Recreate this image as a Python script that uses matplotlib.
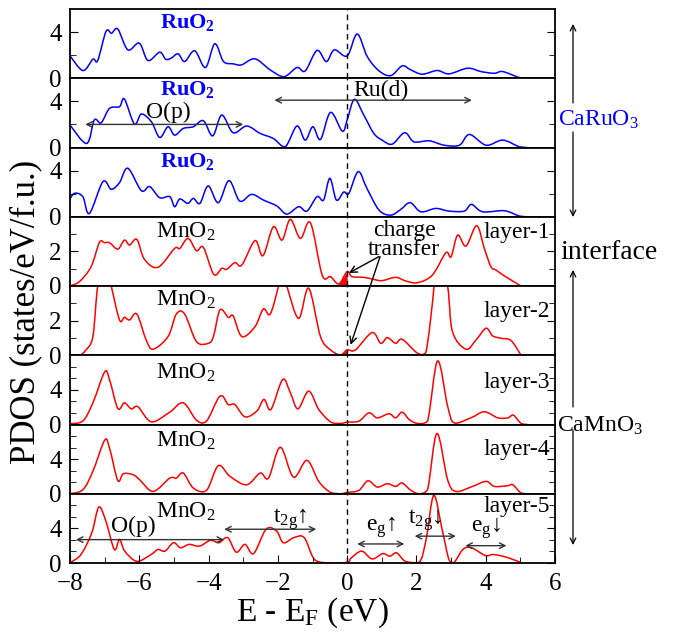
import numpy as np
import matplotlib.pyplot as plt
from matplotlib.ticker import FixedLocator
from matplotlib.path import Path
from matplotlib.patches import PathPatch, FancyArrowPatch

plt.rcParams['font.family'] = ['Liberation Serif', 'DejaVu Serif']
plt.rcParams['mathtext.fontset'] = 'custom'
plt.rcParams['mathtext.rm'] = 'Liberation Serif'
plt.rcParams['mathtext.it'] = 'Liberation Serif:italic'
plt.rcParams['mathtext.bf'] = 'Liberation Serif:bold'

# ---- PDOS (energy in eV, states/eV/f.u.) ----
ru1_e = [-8.02, -7.63, -7.34, -7.2, -6.96, -6.8, -6.62, -6.33, -6.0, -5.75, -5.41, -5.24, -5.08, -4.88,
         -4.69, -4.4, -4.09, -3.82, -3.57, -3.29, -3.05, -2.66, -2.22, -1.82, -1.45, -1.21, -0.87, -0.6,
         -0.37, 0.0, 0.29, 0.58, 0.92, 1.26, 1.59, 1.84, 2.17, 2.6, 2.94, 3.48, 3.86, 4.25, 4.49, 4.97, 5.2]
ru1_d = [2.03, 0.67, 1.65, 1.54, 4.06, 3.9, 4.26, 2.46, 3.04, 1.54, 2.26, 1.65, 1.74, 2.12,
         1.45, 2.38, 0.93, 2.99, 1.45, 1.25, 1.16, 1.68, 0.72, 0.14, 0.93, 0.64, 2.41, 1.45,
         2.46, 1.94, 3.83, 1.88, 0.64, 0.23, 1.07, 0.72, 0.35, 0.67, 0.38, 0.87, 0.58, 0.43, 0.58, 0.06, 0.0]

ru2_e = [-8.02, -7.52, -7.3, -7.1, -6.86, -6.57, -6.43, -6.14, -5.94, -5.65, -5.41, -5.17, -4.98, -4.73,
         -4.44, -4.15, -3.88, -3.62, -3.29, -2.9, -2.51, -2.13, -1.79, -1.45, -1.21, -0.99, -0.77, -0.48,
         -0.14, 0.0, 0.21, 0.48, 0.77, 1.01, 1.3, 1.66, 1.93, 2.37, 2.8, 3.24, 3.53, 4.01, 4.49, 4.97, 5.2]
ru2_d = [2.03, 0.35, 2.38, 2.14, 3.39, 3.54, 4.2, 2.03, 2.9, 2.23, 0.87, 1.8, 1.07, 1.65,
         1.8, 2.32, 1.01, 2.81, 1.28, 1.86, 1.22, 0.78, 0.06, 1.86, 0.64, 1.8, 0.7, 3.04,
         1.42, 2.38, 4.17, 2.81, 1.22, 0.64, 0.29, 1.28, 0.49, 0.58, 0.2, 0.2, 1.13, 0.2, 0.64, 0.06, 0.0]

ru3_e = [-8.02, -7.87, -7.63, -7.44, -7.05, -6.81, -6.57, -6.33, -5.94, -5.7, -5.41, -5.12, -4.98, -4.83,
         -4.6, -4.44, -4.25, -4.01, -3.72, -3.41, -3.1, -2.76, -2.42, -2.03, -1.74, -1.4, -1.16, -0.87,
         -0.68, -0.5, -0.31, -0.1, 0.05, 0.32, 0.57, 0.92, 1.26, 1.55, 1.82, 2.13, 2.56, 2.94, 3.38, 3.59,
         3.91, 4.54, 4.97, 5.2]
ru3_d = [1.45, 2.03, 1.74, 0.29, 3.04, 2.38, 2.96, 4.2, 2.26, 2.61, 1.65, 1.74, 0.87, 1.54,
         1.16, 1.59, 1.16, 2.67, 1.22, 3.13, 1.36, 1.94, 1.45, 0.93, 0.23, 0.87, 0.49, 1.74,
         1.45, 3.33, 1.45, 2.14, 2.03, 3.91, 2.46, 0.58, 0.14, 0.64, 1.22, 0.43, 0.72, 0.49, 0.49, 1.07,
         0.43, 0.52, 0.06, 0.0]

mn1_e = [-8.02, -7.73, -7.39, -7.15, -7.0, -6.86, -6.62, -6.43, -6.28, -6.07, -5.85, -5.46, -4.98, -4.83,
         -4.59, -4.35, -4.15, -3.85, -3.62, -3.48, -3.24, -3.04, -2.66, -2.43, -2.13, -1.88, -1.64, -1.35,
         -1.06, -0.72, -0.48, -0.24, 0.0, 0.14, 0.48, 0.77, 1.01, 1.4, 1.69, 2.03, 2.46, 2.85, 3.0, 3.19,
         3.43, 3.74, 3.96, 4.15, 4.3, 4.54, 5.02]
mn1_d = [0.0, 0.25, 1.12, 2.52, 2.5, 2.5, 2.13, 2.65, 2.37, 2.69, 1.54, 1.08, 2.17, 2.17,
         2.75, 2.04, 2.23, 0.67, 1.02, 0.96, 1.35, 1.21, 2.62, 1.75, 3.42, 2.65, 3.85, 2.75,
         3.65, 0.63, 0.54, 0.12, 0.83, 0.54, 0.5, 0.38, 0.31, 0.5, 0.29, 0.19, 0.63, 1.92, 1.69, 2.94,
         2.31, 3.48, 2.17, 1.12, 0.92, 0.58, 0.0]

mn2_e = [-8.02, -7.73, -7.54, -7.34, -7.2, -7.0, -6.81, -6.57, -6.43, -6.28, -6.07, -5.8, -5.6, -5.17,
         -4.93, -4.69, -4.35, -4.01, -3.86, -3.67, -3.43, -3.29, -3.04, -2.66, -2.42, -2.22, -1.98, -1.86,
         -1.74, -1.4, -1.11, -0.77, -0.48, -0.19, 0.0, 0.24, 0.72, 0.97, 1.16, 1.4, 1.59, 2.03, 2.27,
         2.51, 2.6, 2.9, 3.04, 3.43, 3.72, 4.01, 4.2, 4.44, 4.73, 5.02]
mn2_d = [0.0, 0.0, 0.31, 1.08, 4.0, 5.6, 4.0, 2.04, 2.19, 2.04, 2.38, 0.88, 0.35, 1.08,
         2.38, 2.38, 0.79, 0.69, 1.08, 2.62, 2.19, 2.27, 1.08, 1.65, 2.67, 2.38, 4.0, 5.0,
         4.0, 2.13, 3.87, 1.08, 0.31, 0.02, 0.31, 0.31, 1.31, 0.69, 1.02, 0.69, 0.92, 0.12, 0.15,
         4.0, 7.0, 4.0, 1.37, 0.35, 0.88, 1.56, 1.12, 0.98, 0.85, 0.0]

mn3_e = [-8.02, -7.63, -7.34, -7.0, -6.86, -6.62, -6.43, -6.23, -6.04, -5.65, -5.12, -4.73, -4.35, -4.06,
         -3.67, -3.43, -3.24, -2.95, -2.61, -2.4, -2.2, -1.86, -1.64, -1.42, -1.11, -0.82, -0.48, -0.19,
         0.0, 0.34, 0.63, 0.87, 1.21, 1.4, 1.59, 1.79, 2.03, 2.32, 2.61, 2.9, 3.09, 3.57, 3.96, 4.35,
         4.64, 4.8, 5.02, 5.2]
mn3_d = [0.1, 0.4, 2.5, 6.06, 5.2, 1.85, 2.5, 1.8, 2.05, 0.31, 1.43, 2.5, 0.5, 0.39,
         3.28, 2.3, 2.3, 0.89, 1.54, 2.9, 1.74, 5.2, 3.67, 1.81, 3.86, 1.74, 0.31, 0.12,
         0.27, 0.39, 1.35, 0.77, 1.24, 0.77, 1.43, 0.58, 0.12, 0.39, 7.34, 2.12, 0.19, 0.77, 1.47, 0.77,
         0.77, 1.08, 0.12, 0.0]

mn4_e = [-8.02, -7.63, -7.34, -7.0, -6.86, -6.62, -6.46, -6.18, -5.99, -5.6, -5.12, -4.93, -4.73, -4.44,
         -4.06, -3.72, -3.38, -2.9, -2.51, -2.27, -1.93, -1.55, -1.16, -0.82, -0.48, -0.19, 0.0, 0.34,
         0.6, 0.87, 1.16, 1.4, 1.59, 1.84, 2.08, 2.32, 2.59, 2.9, 3.14, 3.62, 4.01, 4.25, 4.64, 4.78,
         5.02, 5.2]
mn4_d = [0.0, 0.46, 2.59, 6.18, 5.29, 1.54, 2.32, 2.2, 1.62, 0.27, 1.81, 1.81, 2.39, 0.66,
         0.39, 3.24, 2.0, 1.04, 2.39, 1.81, 5.37, 1.93, 3.86, 1.43, 0.15, 0.0, 0.15, 0.39,
         1.5, 0.77, 1.16, 0.85, 1.24, 0.39, 0.0, 0.46, 6.95, 1.62, 0.27, 0.85, 1.43, 0.85, 0.93, 1.04,
         0.08, 0.0]

mn5_e = [-7.98, -7.68, -7.37, -7.17, -6.97, -6.72, -6.57, -6.42, -6.07, -5.66, -5.46, -5.26, -5.01, -4.81,
         -4.56, -4.26, -3.95, -3.7, -3.45, -3.2, -2.95, -2.7, -2.34, -2.04, -1.84, -1.54, -1.24, -0.94,
         -0.53, 0.0, 0.12, 0.42, 0.72, 1.03, 1.23, 1.43, 1.68, 2.08, 2.28, 2.5, 2.74, 2.94, 3.09, 3.34,
         3.59, 3.99, 4.2, 4.5, 4.8, 5.05]
mn5_d = [0.08, 1.0, 3.5, 6.45, 4.9, 1.56, 2.73, 1.37, 0.2, 0.98, 1.56, 1.37, 2.34, 1.76,
         2.15, 1.95, 2.62, 2.34, 2.93, 1.25, 2.15, 1.09, 3.9, 3.7, 2.34, 2.93, 2.93, 0.39,
         0.0, 0.08, 0.59, 1.37, 0.47, 1.09, 0.78, 1.17, 0.2, 0.08, 2.73, 7.8, 3.9, 0.39, 0.08, 1.56,
         1.76, 0.86, 0.98, 0.78, 0.39, 0.0]

energies = [ru1_e, ru2_e, ru3_e, mn1_e, mn2_e, mn3_e, mn4_e, mn5_e]
pdos = [ru1_d, ru2_d, ru3_d, mn1_d, mn2_d, mn3_d, mn4_d, mn5_d]
colors = ['#0000ff'] * 3 + ['#ff0000'] * 5
ymax = [6, 6, 6, 4, 4, 8, 8, 8]
layer_names = ['', '', '', 'layer-1', 'layer-2', 'layer-3', 'layer-4', 'layer-5']
layer_y = [0, 0, 0, 3.1, 2.55, 4.85, 5.1, 6.5]


def smooth_path(x, y):
    # smooth (Bezier) rendering through the read points, no new data values
    p = np.column_stack([x, y]).astype(float)
    n = len(p)
    verts = [p[0]]
    codes = [Path.MOVETO]
    for i in range(n - 1):
        p0 = p[max(i - 1, 0)]
        p1, p2 = p[i], p[i + 1]
        p3 = p[min(i + 2, n - 1)]
        c1 = p1 + (p2 - p0) / 6
        c2 = p2 - (p3 - p1) / 6
        c1[0] = min(max(c1[0], p1[0]), p2[0])
        c2[0] = min(max(c2[0], p1[0]), p2[0])
        c1[1] = max(c1[1], 0)
        c2[1] = max(c2[1], 0)
        verts += [c1, c2, p2]
        codes += [Path.CURVE4] * 3
    return Path(verts, codes)


W, H = 676, 633
fig = plt.figure(figsize=(W / 100, H / 100), dpi=100)
top_px, bot_px, left_px, right_px = 9, 563, 70, 555
ph = (bot_px - top_px) / 8

axes = []
for i in range(8):
    y0 = 1 - (top_px + (i + 1) * ph) / H
    ax = fig.add_axes([left_px / W, y0, (right_px - left_px) / W, ph / H])
    ax.add_patch(PathPatch(smooth_path(energies[i], pdos[i]), fill=False,
                           edgecolor=colors[i], lw=1.1))
    ax.axvline(0, color='k', ls=(0, (4, 3)), lw=1)
    ax.set_xlim(-8, 6)
    ax.set_ylim(0, ymax[i])
    if ymax[i] == 4:
        ax.set_yticks([0, 2])
        ax.yaxis.set_minor_locator(FixedLocator([1, 3]))
    elif ymax[i] == 6:
        ax.set_yticks([0, 4])
        ax.yaxis.set_minor_locator(FixedLocator([2]))
    else:
        ax.set_yticks([0, 4])
        ax.yaxis.set_minor_locator(FixedLocator([4 / 3, 8 / 3, 16 / 3, 20 / 3]))
    ax.tick_params(axis='y', which='both', direction='in', left=True, right=True,
                   labelsize=18, pad=6)
    ax.tick_params(axis='y', which='major', length=6)
    ax.tick_params(axis='y', which='minor', length=4)
    for s in ax.spines.values():
        s.set_linewidth(1.3)
    if i < 7:
        ax.set_xticks([])
    else:
        ax.set_xticks(np.arange(-8, 7, 2))
        ax.xaxis.set_minor_locator(FixedLocator(np.arange(-7, 6, 2)))
        ax.tick_params(axis='x', which='both', direction='in', labelsize=18, pad=7)
        ax.tick_params(axis='x', which='major', length=6)
        ax.tick_params(axis='x', which='minor', length=4)
    if layer_names[i]:
        ax.text(5.85, layer_y[i], layer_names[i], ha='right', va='center', fontsize=17)
    axes.append(ax)

# red filled regions just below E_F
for i, lo in [(3, -0.3), (4, -0.2)]:
    e = np.array(energies[i])
    d = np.array(pdos[i])
    axes[i].fill_between(e, d, where=(e >= lo) & (e <= 0), color='#ff0000', lw=0)

# RuO2 / MnO2 labels
for i, yy in zip(range(3), [4.8, 5.0, 4.8]):
    axes[i].text(-4.6, yy, r'RuO$_\mathbf{2}$', color='#0000ff', fontweight='bold',
                 fontsize=16, ha='center', va='center')
for i, yy in zip(range(3, 8), [3.1, 3.2, 6.0, 6.1, 5.9]):
    axes[i].text(-4.65, yy, r'MnO$_2$', fontsize=17, ha='center', va='center')

arr = dict(arrowstyle='<->', color='#333333', lw=1, shrinkA=0, shrinkB=0,
           mutation_scale=10)

# panel 2: O(p) and Ru(d)
axes[1].annotate('', xy=(-7.56, 2.0), xytext=(-3.0, 2.0), arrowprops=arr)
axes[1].text(-5.15, 3.0, 'O(p)', fontsize=17, ha='center', va='center')
axes[1].annotate('', xy=(-2.1, 4.1), xytext=(3.6, 4.1), arrowprops=arr)
axes[1].text(0.97, 4.9, 'Ru(d)', fontsize=17, ha='center', va='center')

# charge transfer
axes[3].text(1.65, 2.65, 'charge\ntransfer', fontsize=17, ha='center', va='center',
             linespacing=0.85)
one = dict(arrowstyle='->', color='k', lw=1, shrinkA=0, shrinkB=0, mutation_scale=12)
axes[3].annotate('', xy=(0.05, 0.75), xytext=(0.92, 1.7), arrowprops=one)
axes[4].annotate('', xy=(0.1, 0.6), xytext=(0.95, 1.7), textcoords=axes[3].transData,
                 arrowprops=one, annotation_clip=False)

# panel 8: orbital ranges
ax8 = axes[7]
spans = [(-7.83, -3.55, 2.7), (-3.55, -0.89, 3.9), (0.29, 1.65, 2.2), (1.95, 3.14, 3.1), (3.41, 4.6, 2.0)]
for x1, x2, yy in spans:
    ax8.annotate('', xy=(x1, yy), xytext=(x2, yy), arrowprops=arr)
ax8.text(-6.17, 4.2, 'O(p)', fontsize=17, ha='center', va='center')
ax8.text(-1.65, 5.1, r't$_\mathrm{2g}$↑', fontsize=17, ha='center', va='center')
ax8.text(0.98, 4.1, r'e$_\mathrm{g}$↑', fontsize=17, ha='center', va='center')
ax8.text(2.25, 5.0, r't$_\mathrm{2g}$↓', fontsize=17, ha='center', va='center')
ax8.text(4.0, 4.0, r'e$_\mathrm{g}$↓', fontsize=17, ha='center', va='center')

# axis titles
fig.text(26 / W, 1 - 312 / H, 'PDOS (states/eV/f.u.)', rotation=90, fontsize=25,
         ha='center', va='center')
fig.text(312 / W, 1 - 621 / H, 'E - E$_\\mathrm{F}$ (eV)', fontsize=24, ha='center',
         va='baseline')


# right-hand side: slab regions
def fx(px):
    return px / W


def fy(py):
    return 1 - py / H


side = dict(arrowstyle='->', color='k', lw=0.9, shrinkA=0, shrinkB=0, mutation_scale=10)
for a, b in [(103, 24), (132, 217), (407, 270), (430, 545)]:
    fig.add_artist(FancyArrowPatch((fx(573), fy(a)), (fx(573), fy(b)),
                                   transform=fig.transFigure, **side))
fig.text(fx(558), fy(126), r'CaRuO$_3$', color='#0000ff', fontsize=17, ha='left',
         va='baseline')
fig.text(fx(560), fy(259), 'interface', fontsize=20, ha='left', va='baseline')
fig.text(fx(557), fy(432), r'CaMnO$_3$', fontsize=17, ha='left', va='baseline')

fig.savefig('out.png', dpi=100)
